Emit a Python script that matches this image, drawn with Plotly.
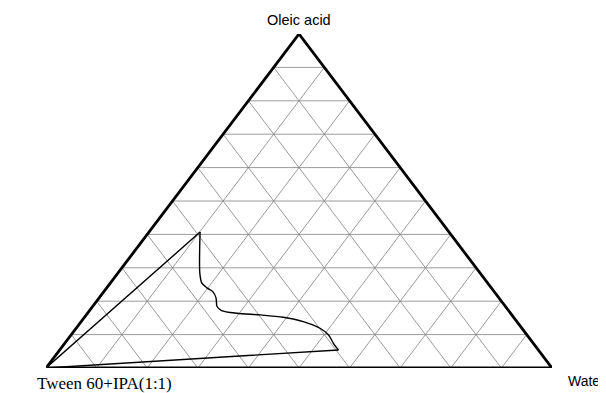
import numpy as np
import plotly.graph_objects as go

# -----------------------------
# 1. Data (percent composition: oleic acid, water; tween+IPA = rest)
# -----------------------------
apex = ['Oleic acid', 'Tween 60+IPA(1:1)', 'Water']

# boundary of the microemulsion region
curve_oleic = [40.7, 28.4, 25.4, 24.0, 22.8, 21.0, 18.4, 17.2, 16.4, 15.9, 15.2, 13.9, 11.9, 9.9, 7.4, 5.4]
curve_water = [10.1, 16.2, 18.1, 19.8, 21.6, 23.1, 24.6, 26.1, 29.5, 34.4, 39.3, 43.9, 48.2, 50.9, 53.1, 55.1]

# straight edges from the Tween corner
edge_oleic = [5.4, 0.0, 40.7]
edge_water = [55.1, 0.0, 10.1]

grid_steps = [10, 20, 30, 40, 50, 60, 70, 80, 90]


def to_xy(oleic, water):
    # ternary -> plane: Tween at left, Water at right, Oleic acid on top
    a = np.asarray(oleic, dtype=float) / 100
    c = np.asarray(water, dtype=float) / 100
    return c + a / 2, a


# -----------------------------
# 2. Grid lines
# -----------------------------
gx, gy = [], []
for k in grid_steps:
    # constant oleic acid
    for seg in [([k, k], [0, 100 - k]),
                # constant water
                ([0, 100 - k], [k, k]),
                # constant tween
                ([0, 100 - k], [100 - k, 0])]:
        x, y = to_xy(*seg)
        gx += list(x) + [None]
        gy += list(y) + [None]

fig = go.Figure()
fig.add_trace(go.Scatter(x=gx, y=gy, mode='lines', hoverinfo='skip',
                         line=dict(color='rgb(130,130,130)', width=0.8)))

# outer triangle
bx, by = to_xy([0, 0, 100, 0], [0, 100, 0, 0])
fig.add_trace(go.Scatter(x=bx, y=by, mode='lines', cliponaxis=False,
                         line=dict(color='black', width=2.8)))

# phase boundary
cx, cy = to_xy(curve_oleic, curve_water)
fig.add_trace(go.Scatter(x=cx, y=cy, mode='lines', line_shape='spline',
                         line=dict(color='black', width=1.4, smoothing=0.8)))
ex, ey = to_xy(edge_oleic, edge_water)
fig.add_trace(go.Scatter(x=ex, y=ey, mode='lines', cliponaxis=False,
                         line=dict(color='black', width=1.4)))

# -----------------------------
# 3. Labels and layout
# -----------------------------
fig.add_annotation(x=0.5, y=1, text=apex[0], showarrow=False, yshift=14,
                   font=dict(family='Liberation Sans, Arial', size=14.5, color='black'))
fig.add_annotation(x=0, y=0, text=apex[1], showarrow=False, xanchor='left', xshift=-11, yshift=-15,
                   font=dict(family='Liberation Serif, Times New Roman', size=17, color='black'))
fig.add_annotation(x=1, y=0, text=apex[2], showarrow=False, xanchor='left', xshift=14, yshift=-13,
                   font=dict(family='Liberation Sans, Arial', size=14, color='black'))

# page body adds 8px, so the figure is a bit smaller than the window
fig.update_layout(width=598, height=385, showlegend=False,
                  margin=dict(l=38, r=54, t=26, b=25),
                  paper_bgcolor='white', plot_bgcolor='white',
                  xaxis=dict(range=[0, 1], visible=False, fixedrange=True),
                  yaxis=dict(range=[0, 1], visible=False, fixedrange=True))

fig.write_html('out.html')
